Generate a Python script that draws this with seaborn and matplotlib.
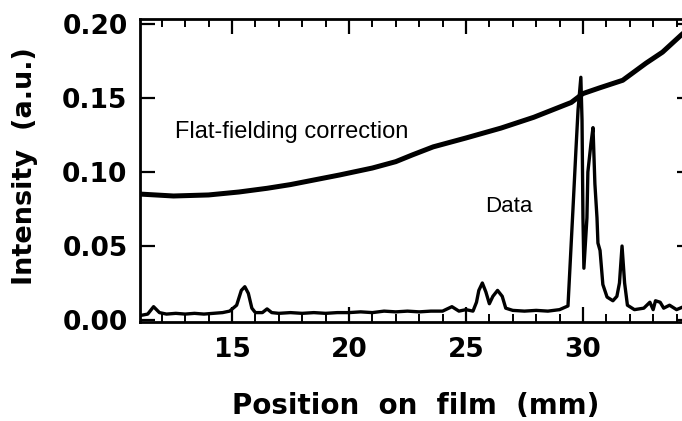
import matplotlib
matplotlib.use("Agg")
import matplotlib.pyplot as plt
import seaborn as sns
import pandas as pd
from matplotlib.ticker import MultipleLocator, FormatStrFormatter

# Flat-fielding correction curve
ff_x = [11.07, 12.5, 14.0, 15.3, 16.5, 17.5, 18.5, 19.6, 21.0, 22.0, 22.7, 23.6,
        25.0, 26.5, 27.9, 29.5, 30.0, 30.7, 31.7, 32.7, 33.4, 34.2, 34.66]
ff_y = [0.0851, 0.0838, 0.0845, 0.0865, 0.089, 0.0915, 0.0946, 0.098, 0.1027, 0.107,
        0.1115, 0.117, 0.123, 0.1297, 0.137, 0.147, 0.153, 0.1568, 0.162, 0.1736,
        0.181, 0.1926, 0.199]

# Measured data
data_x = [11.07, 11.4, 11.65, 11.9, 12.2, 12.6, 13.0, 13.4, 13.8, 14.2, 14.6, 14.9,
          15.2, 15.4, 15.55, 15.7, 15.85, 16.0, 16.3, 16.5, 16.7, 17.0, 17.5, 18.0,
          18.5, 19.0, 19.5, 20.0, 20.5, 21.0, 21.5, 22.0, 22.5, 23.0, 23.5, 24.0,
          24.4, 24.7, 25.0, 25.3, 25.45, 25.55, 25.7, 25.85, 26.0, 26.15, 26.35, 26.55,
          26.7, 27.0, 27.5, 28.0, 28.5, 29.0, 29.36, 29.57, 29.70, 29.79, 29.91, 29.96,
          30.0, 30.04, 30.17, 30.21, 30.34, 30.43, 30.51, 30.60, 30.64, 30.73, 30.85,
          31.03, 31.28, 31.45, 31.56, 31.67, 31.78, 31.9, 32.2, 32.6, 32.86, 33.0,
          33.1, 33.3, 33.45, 33.7, 34.0, 34.3, 34.66]
data_y = [0.003, 0.004, 0.009, 0.005, 0.004, 0.0045, 0.004, 0.0045, 0.004, 0.0045,
          0.005, 0.006, 0.010, 0.020, 0.0225, 0.018, 0.008, 0.005, 0.005, 0.0075,
          0.005, 0.0045, 0.005, 0.0045, 0.005, 0.0045, 0.005, 0.005, 0.0055, 0.005,
          0.006, 0.0055, 0.006, 0.0055, 0.006, 0.006, 0.009, 0.006, 0.007, 0.006,
          0.012, 0.020, 0.025, 0.019, 0.011, 0.016, 0.020, 0.016, 0.008, 0.0065,
          0.006, 0.0065, 0.006, 0.007, 0.0095, 0.074, 0.115, 0.142, 0.164, 0.135,
          0.069, 0.035, 0.069, 0.10, 0.119, 0.130, 0.092, 0.069, 0.052, 0.047,
          0.024, 0.0155, 0.013, 0.016, 0.025, 0.050, 0.025, 0.010, 0.007, 0.008,
          0.012, 0.007, 0.013, 0.012, 0.008, 0.010, 0.007, 0.009, 0.010]

x_ticks = [15, 20, 25, 30]
y_ticks = [0.00, 0.05, 0.10, 0.15, 0.20]

sns.set_style("ticks")
plt.rcParams['font.family'] = ['DejaVu Sans']
plt.rcParams['text.color'] = 'black'
plt.rcParams['axes.labelcolor'] = 'black'

fig = plt.figure(figsize=(6.82, 4.21), dpi=100)
# axes in pixels: left 140, right 692 (beyond canvas), bottom 322, top 19
ax = fig.add_axes([140 / 682, 1 - 322 / 421, 552 / 682, 303 / 421])

ff = pd.DataFrame({"x": ff_x, "y": ff_y})
dd = pd.DataFrame({"x": data_x, "y": data_y})
sns.lineplot(data=ff, x="x", y="y", ax=ax, color="black", lw=3.6, sort=False)
sns.lineplot(data=dd, x="x", y="y", ax=ax, color="black", lw=2.4, sort=False)

ax.set_xlim(11.07, 34.66)
ax.set_ylim(-0.00135, 0.2034)
ax.set_xticks(x_ticks)
ax.set_yticks(y_ticks)
ax.yaxis.set_major_formatter(FormatStrFormatter("%.2f"))
ax.xaxis.set_minor_locator(MultipleLocator(1))

for s in ax.spines.values():
    s.set_linewidth(2.0)
    s.set_color("black")
    s.set_visible(True)

ax.tick_params(axis="both", which="major", direction="in", length=11, width=1.6,
               top=True, right=True, labelsize=19, colors="black")
ax.tick_params(axis="y", which="major", pad=9)
ax.tick_params(axis="x", which="major", pad=11)
ax.tick_params(axis="x", which="minor", direction="in", length=5.5, width=1.4,
               top=True, bottom=True, colors="black")
for lab in ax.get_xticklabels() + ax.get_yticklabels():
    lab.set_fontweight("bold")
    lab.set_color("black")

ax.set_xlabel("Position  on  film  (mm)", fontsize=20, fontweight="bold", color="black")
ax.set_ylabel("Intensity  (a.u.)", fontsize=19.5, fontweight="bold", color="black")
ax.xaxis.set_label_coords((416 - 140) / 552, (322 - 392) / 303)
ax.yaxis.set_label_coords((38 - 140) / 552, (322 - 166.5) / 303)

ax.text(12.56, 0.123, "Flat-fielding correction", fontsize=17, color="black",
        family="Liberation Sans", va="baseline", ha="left")
ax.text(25.81, 0.073, "Data", fontsize=16, family="Liberation Sans", color="black",
        va="baseline", ha="left")

fig.savefig("out.png", dpi=100)
